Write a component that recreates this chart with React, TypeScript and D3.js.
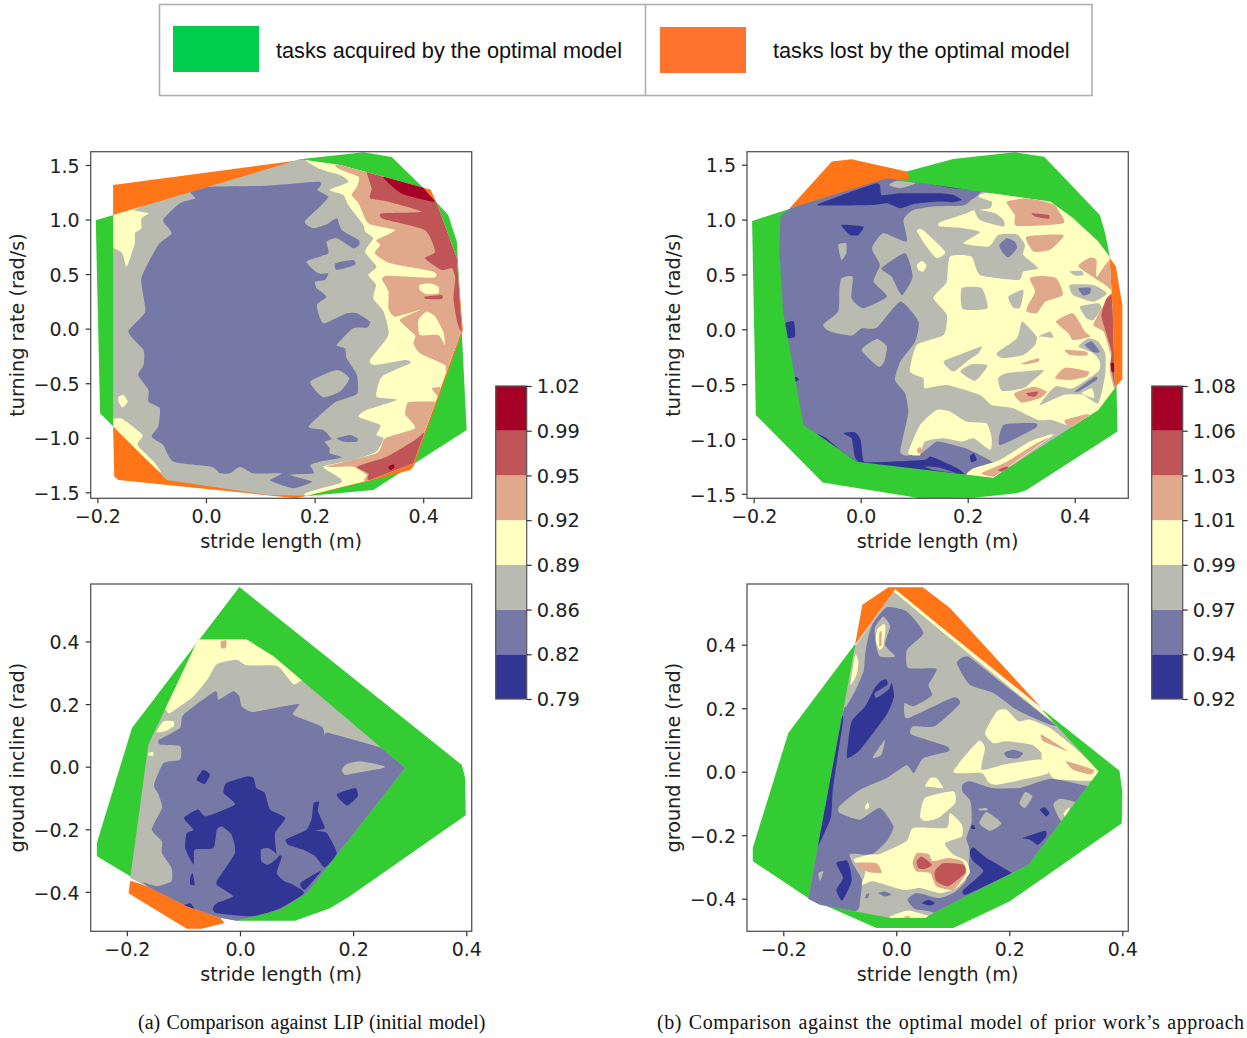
import React, { useEffect, useRef } from "react";
import * as d3 from "d3";

type Pt = [number, number];
type Layer = [number, Pt[]];

// colour bands, low to high
const bandColors = ["#313695", "#7679a6", "#b9bbb0", "#ffffbf", "#e0a98c", "#c05558", "#a50026"];
const leftBarLabels = ["0.79", "0.82", "0.86", "0.89", "0.92", "0.95", "0.99", "1.02"];
const rightBarLabels = ["0.92", "0.94", "0.97", "0.99", "1.01", "1.03", "1.06", "1.08"];
const turnTicks = [-1.5, -1, -0.5, 0, 0.5, 1, 1.5];
const strideTicksTop = [-0.2, 0, 0.2, 0.4];
const strideTicksBottom = [-0.2, 0, 0.2, 0.4];
const inclineTicks = [-0.4, -0.2, 0, 0.2, 0.4];
const legendItems = ["tasks acquired by the optimal model", "tasks lost by the optimal model"];

// ---- top left: stride length vs turning rate, LIP
const tlAcquired: Pt[] = [[-.203,.993],[.173,1.552],[.29,1.616],[.342,1.573],[.4,1.292],[.446,1.042],[.462,.797],[.471,-.027],[.48,-.929],[.308,-1.479],[.192,-1.531],[-.171,-.898],[-.195,-.776]];
const tlLost: Pt[][] = [[[-.171,1.317],[.161,1.537],[.413,1.277],[.424,1.164],[.465,.461],[.473,-.012],[.459,-.211],[.382,-1.265],[.376,-1.295],[.308,-1.387],[.167,-1.555],[-.161,-1.387],[-.169,-1.356],[-.171,-.898]]];
const tlHull: Pt[] = [[-.171,1.042],[.173,1.552],[.247,1.5],[.327,1.393],[.4,1.292],[.425,1.149],[.462,.645],[.471,-.012],[.443,-.394],[.382,-1.234],[.302,-1.387],[.185,-1.531],[.112,-1.524],[-.072,-1.387],[-.171,-.898]];
const tlLayers: Layer[] = [
  [1,[[.006,1.301],[.112,1.311],[.207,1.347],[.21,1.301],[.205,1.271],[.225,1.21],[.213,1.133],[.182,.981],[.198,.92],[.225,.965],[.241,1.011],[.25,.904],[.281,.813],[.282,.767],[.271,.736],[.241,.828],[.222,.797],[.225,.69],[.185,.614],[.207,.507],[.225,.507],[.219,.446],[.201,.431],[.204,.37],[.222,.293],[.204,.217],[.216,.049],[.259,.141],[.278,.141],[.302,.064],[.296,.009],[.271,.003],[.241,-.15],[.256,-.18],[.259,-.272],[.278,-.425],[.279,-.593],[.259,-.638],[.235,-.684],[.189,-.898],[.216,-.929],[.231,-1.011],[.219,-1.036],[.228,-1.097],[.228,-1.143],[.25,-1.182],[.21,-1.219],[.192,-1.25],[.198,-1.326],[.155,-1.341],[.195,-1.402],[.161,-1.463],[.13,-1.418],[.118,-1.387],[.139,-1.326],[.087,-1.326],[.063,-1.265],[.044,-1.326],[.026,-1.326],[.01,-1.265],[-.06,-1.219],[-.079,-1.066],[-.1,-.99],[-.088,-.898],[-.085,-.73],[-.106,-.669],[-.106,-.562],[-.125,-.425],[-.115,-.333],[-.115,-.196],[-.143,-.027],[-.112,.156],[-.119,.461],[-.088,.767],[-.063,.874],[-.079,.996],[-.048,1.149],[-.02,1.195],[-.029,1.256]]],
  [2,[[.192,-.486],[.241,-.379],[.264,-.455],[.247,-.577],[.216,-.629]]],
  [1,[[.238,.599],[.271,.629],[.274,.584],[.241,.538]]],
  [1,[[.241,-1.005],[.265,-.975],[.279,-1.005],[.278,-1.036],[.253,-1.036]]],
  [3,[[.185,1.537],[.21,1.463],[.25,1.402],[.262,1.341],[.228,1.271],[.253,1.225],[.262,1.133],[.29,.95],[.293,.889],[.308,.828],[.293,.706],[.314,.568],[.299,.492],[.313,.4],[.308,.278],[.327,.156],[.336,-.058],[.302,-.287],[.311,-.333],[.367,-.287],[.376,-.318],[.324,-.44],[.314,-.623],[.351,-.654],[.296,-.745],[.281,-.807],[.321,-.883],[.314,-.975],[.327,-1.005],[.314,-1.127],[.271,-1.204],[.216,-1.265],[.247,-1.372],[.247,-1.418],[.185,-1.531],[.5,-1.6],[.55,0],[.5,1.6],[.185,1.6]]],
  [4,[[.244,1.506],[.281,1.393],[.278,1.301],[.268,1.225],[.281,1.149],[.299,.965],[.348,.904],[.314,.813],[.321,.767],[.311,.69],[.339,.599],[.419,.522],[.419,.467],[.336,.486],[.324,.455],[.336,.339],[.336,.186],[.348,.11],[.394,.171],[.357,.079],[.385,-.058],[.382,-.134],[.394,-.226],[.44,-.333],[.446,-.394],[.55,-.394],[.55,1.6]]],
  [3,[[.391,.079],[.406,.156],[.422,.11],[.437,-.027],[.44,-.15],[.428,-.058],[.394,-.058]]],
  [3,[[.393,.4],[.413,.415],[.428,.385],[.428,.324],[.406,.315],[.394,.354]]],
  [5,[[.403,.293],[.434,.309],[.434,.272],[.406,.272]]],
  [4,[[.367,-.761],[.373,-.675],[.422,-.669],[.428,-.672],[.428,-1.372],[.296,-1.402],[.296,-1.341],[.271,-1.265],[.222,-1.265],[.314,-1.143],[.33,-1.005],[.385,-.913],[.367,-.791]]],
  [4,[[.416,-.547],[.434,-.541],[.428,-.623]]],
  [5,[[.278,-1.265],[.333,-1.173],[.385,-1.02],[.406,-.959],[.406,-1.402],[.302,-1.402],[.299,-1.326]]],
  [6,[[.336,-1.265],[.345,-1.243],[.347,-1.274],[.339,-1.295]]],
  [5,[[.296,1.439],[.305,1.286],[.302,1.195],[.336,1.164],[.397,1.072],[.324,1.057],[.327,1.005],[.403,.904],[.422,.706],[.403,.645],[.434,.538],[.453,.553],[.459,.461],[.456,.263],[.471,-.027],[.55,0],[.55,1.6],[.3,1.6]]],
  [6,[[.327,1.393],[.351,1.271],[.367,1.225],[.422,1.164],[.443,1.286],[.4,1.301]]],
  [3,[[-.2,1.05],[-.119,1.118],[-.134,1.088],[-.106,1.057],[-.119,1.011],[-.119,.92],[-.131,.874],[-.131,.782],[-.146,.568],[-.154,.69],[-.171,.736],[-.2,.74]]],
  [3,[[-.161,-.623],[-.152,-.608],[-.144,-.669],[-.154,-.721],[-.161,-.669]]],
  [3,[[-.18,-.88],[-.157,-.822],[-.117,-.975],[-.126,-1.066],[-.096,-1.219],[-.085,-1.311]]],
];

// ---- top right: stride length vs turning rate, prior work
const trAcquired: Pt[] = [[-.203,.988],[.086,1.438],[.173,1.553],[.288,1.614],[.343,1.572],[.447,1.043],[.457,.876],[.465,.678],[.478,-.508],[.48,-.933],[.31,-1.465],[.292,-1.496],[.211,-1.535],[.111,-1.541],[-.071,-1.398],[-.196,-.781]];
const trLost: Pt[][] = [
  [[-.133,1.104],[-.054,1.529],[-.017,1.55],[.086,1.438],[.092,1.377]],
  [[.465,.654],[.477,.572],[.489,.222],[.489,-.456],[.471,-.553],[.46,.161]],
];
const trHull: Pt[] = [[-.15,1.028],[-.132,1.104],[.049,1.377],[.354,1.164],[.397,1.012],[.444,.8],[.465,.663],[.471,.161],[.475,-.538],[.444,-.736],[.248,-1.353],[-.007,-1.207],[-.107,-.872],[-.145,.161],[-.152,.708]];
const trLayers: Layer[] = [
  [2,[[.08,.997],[.098,1.088],[.136,1.119],[.192,1.128],[.207,1.18],[.223,1.24],[.3,1.7],[.6,1.7],[.6,-1.7],[.198,-1.7],[.198,-1.328],[.211,-1.283],[.254,-1.237],[.204,-1.1],[.161,-1.04],[.142,-1.024],[.117,-1.116],[.086,-1.152],[.074,-1.116],[.083,-.903],[.089,-.751],[.083,-.584],[.064,-.462],[.074,-.295],[.102,-.112],[.108,.07],[.074,.252],[.03,.015],[.002,.009],[-.017,-.058],[-.057,-.021],[-.07,.04],[-.042,.161],[-.04,.344],[-.036,.465],[-.015,.48],[-.017,.283],[.005,.192],[.049,.298],[.024,.435],[.036,.587],[.021,.739],[.042,.876],[.086,.8]]],
  [1,[[.039,.556],[.083,.693],[.097,.48],[.077,.313],[.058,.48]]],
  [2,[[.002,-.188],[.03,-.088],[.049,-.158],[.044,-.295],[.033,-.34]]],
  [2,[[-.042,.769],[-.027,.784],[-.027,.693],[-.036,.632]]],
  [2,[[.053,1.316],[.067,1.353],[.102,1.332],[.074,1.286]]],
  [0,[[-.036,.952],[.005,.936],[-.004,.86],[-.02,.86]]],
  [0,[[-.141,.055],[-.125,.07],[-.123,-.067],[-.141,-.073]]],
  [0,[[-.126,-.447],[-.12,-.432],[-.115,-.456],[-.121,-.477]]],
  [0,[[-.076,1.149],[.03,1.332],[.039,1.225],[.074,1.24],[.148,1.24],[.173,1.225],[.189,1.18],[.173,1.158],[.142,1.164],[.098,1.14],[.074,1.104],[.049,1.149],[.024,1.134],[-.073,1.128]]],
  [0,[[.086,1.368],[.223,1.271],[.173,1.286],[.111,1.341]]],
  [0,[[-.004,-1.207],[-.014,-1.07],[-.017,-.994],[-.032,-.948],[-.011,-.939],[0,-1.009],[.004,-1.176],[.014,-1.213],[.117,-1.192],[.13,-1.161],[.155,-1.207],[.186,-1.283],[.191,-1.344],[.086,-1.298]]],
  [1,[[.12,-1.252],[.148,-1.262],[.179,-1.313],[.136,-1.283]]],
  [0,[[-.079,-.964],[-.007,-1.207],[-.017,-1.192],[-.064,-.994]]],
  [0,[[.204,-1.161],[.211,-1.131],[.217,-1.192],[.207,-1.213]]],
  [1,[[.267,-.872],[.326,-.857],[.326,-.903],[.26,-1.055]]],
  [3,[[.232,1.24],[.6,1.5],[.6,-.8],[.429,-.812],[.397,-.888],[.357,-.827],[.332,-.827],[.285,-.72],[.245,-.69],[.223,-.599],[.161,-.508],[.12,-.538],[.117,-.447],[.092,-.386],[.105,-.143],[.155,-.052],[.161,.131],[.136,.283],[.151,.374],[.161,.435],[.167,.663],[.207,.663],[.223,.496],[.295,.45],[.304,.526],[.332,.556],[.304,.678],[.307,.769],[.292,.866],[.257,.86],[.239,.754],[.192,.784],[.223,.885],[.192,.921],[.148,.936],[.148,.976],[.198,1.058],[.207,1.079],[.242,1.104],[.245,1.164]]],
  [2,[[.214,1.088],[.251,1.058],[.267,.997],[.267,.936],[.223,.997]]],
  [2,[[.189,.374],[.226,.374],[.237,.192],[.191,.185]]],
  [2,[[.276,.298],[.304,.359],[.298,.198],[.285,.198]]],
  [2,[[.254,-.219],[.292,-.082],[.301,.07],[.313,.024],[.329,-.067],[.326,-.143],[.304,-.234],[.267,-.264]]],
  [2,[[.332,-.067],[.354,-.021],[.36,-.076],[.341,-.067]]],
  [2,[[.155,-.295],[.192,-.219],[.226,-.158],[.22,-.219],[.198,-.295],[.173,-.386]]],
  [2,[[.186,-.386],[.207,-.319],[.237,-.331],[.214,-.471]]],
  [2,[[.257,-.447],[.273,-.401],[.341,-.371],[.323,-.462],[.304,-.538],[.264,-.562]]],
  [2,[[.391,.526],[.413,.532],[.416,.496],[.401,.489]]],
  [2,[[.391,.404],[.435,.404],[.46,.328],[.435,.252],[.397,.313]]],
  [2,[[.41,.207],[.444,.237],[.45,.192],[.435,.085],[.422,.1]]],
  [2,[[.407,-.158],[.426,-.082],[.444,-.112],[.457,-.219],[.457,-.416],[.444,-.675],[.416,-.599],[.379,-.599],[.335,-.69],[.363,-.523],[.397,-.538],[.444,-.386],[.447,-.295],[.435,-.219]]],
  [1,[[.259,.769],[.273,.83],[.288,.8],[.292,.739],[.276,.654],[.264,.708]]],
  [1,[[.407,.374],[.429,.38],[.429,.328],[.416,.307]]],
  [1,[[.419,-.143],[.432,-.112],[.447,-.204],[.435,-.21]]],
  [1,[[.401,-.562],[.438,-.432],[.441,-.462],[.407,-.568]]],
  [3,[[.413,-.584],[.432,-.538],[.436,-.629]]],
  [4,[[.31,.845],[.379,.86],[.354,.724],[.323,.708]]],
  [4,[[.316,.465],[.338,.486],[.366,.465],[.378,.313],[.345,.252],[.329,.146],[.31,.161],[.313,.222],[.326,.344]]],
  [4,[[.273,1.164],[.316,1.195],[.36,1.14],[.369,1.088],[.379,.967],[.292,.942],[.288,1.043]]],
  [5,[[.32,1.058],[.351,1.043],[.351,1.006],[.326,1.028]]],
  [4,[[.365,.07],[.397,.146],[.419,-.021],[.429,-.067],[.397,-.097],[.388,-.036]]],
  [4,[[.382,-.188],[.422,-.204],[.422,-.24],[.391,-.234]]],
  [4,[[.301,-.31],[.332,-.264],[.332,-.295],[.307,-.319]]],
  [4,[[.363,-.447],[.382,-.35],[.426,-.386],[.422,-.432],[.391,-.462]]],
  [4,[[.287,-.584],[.323,-.523],[.348,-.568],[.335,-.629],[.301,-.669]]],
  [5,[[.31,-.584],[.332,-.568],[.326,-.614],[.313,-.605]]],
  [4,[[.407,.572],[.429,.654],[.441,.632],[.441,.48],[.466,.632],[.475,.344],[.457,.404]]],
  [4,[[.435,.04],[.454,.222],[.463,.298],[.478,.283],[.478,-.568],[.466,-.386],[.469,-.264],[.454,-.021]]],
  [5,[[.45,.131],[.46,.283],[.478,.298],[.478,-.538],[.467,-.325],[.469,-.204],[.457,-.006]]],
  [6,[[.467,-.31],[.475,-.31],[.475,-.386],[.469,-.386]]],
  [4,[[.382,-.827],[.422,-.775],[.429,-.796],[.397,-.888],[.385,-.872]]],
  [3,[[.211,-1.268],[.26,-1.192],[.316,-1.024],[.36,-.964],[.26,-1.313],[.248,-1.359],[.198,-1.335]]],
  [4,[[.226,-1.313],[.273,-1.207],[.323,-1.055],[.351,-.994],[.267,-1.283],[.248,-1.344]]],
  [5,[[.257,-1.283],[.273,-1.252],[.276,-1.268],[.264,-1.298]]],
  [3,[[.089,-1.116],[.111,-.872],[.142,-.736],[.167,-.751],[.198,-.842],[.235,-.857],[.245,-.994],[.242,-1.1],[.211,-.994],[.189,-1.024],[.155,-.994],[.12,-1.024],[.111,-1.146],[.095,-1.146]]],
  [4,[[.105,-1.1],[.111,-1.07],[.117,-1.122],[.108,-1.131]]],
  [3,[[.105,.897],[.116,.906],[.158,.708],[.142,.648],[.123,.754]]],
  [3,[[.105,.587],[.114,.623],[.123,.587],[.117,.526],[.108,.541]]],
];

// ---- bottom left: stride length vs ground incline, LIP
const blAcquired: Pt[] = [[-.001,.574],[.392,.006],[.398,-.036],[.399,-.155],[.194,-.414],[.159,-.452],[.097,-.492],[-.006,-.492],[-.194,-.35],[-.253,-.286],[-.253,-.244],[-.191,.124]];
const blLost: Pt[][] = [[[-.194,-.364],[-.197,-.404],[-.094,-.518],[-.068,-.518],[-.027,-.499],[-.035,-.483],[-.171,-.377]]];
const blHull: Pt[] = [[-.074,.406],[.012,.406],[.059,.353],[.292,-.004],[.118,-.404],[.071,-.457],[-.006,-.492],[-.035,-.483],[-.094,-.446],[-.194,-.356],[-.162,.07]];
const blLayers: Layer[] = [
  [1,[[-.1,.166],[-.044,.241],[-.038,.214],[-.012,.241],[-.001,.225],[.003,.193],[.024,.175],[.103,.2],[.094,.166],[.144,.129],[.15,.097],[.156,.108],[.25,.06],[.31,0],[.12,-.42],[-.006,-.52],[-.094,-.47],[-.171,-.372],[-.147,-.382],[-.121,-.366],[-.121,-.324],[-.138,-.276],[-.138,-.239],[-.156,-.201],[-.138,-.132],[-.144,-.089],[-.152,-.058],[-.135,.012],[-.106,.022],[-.106,.065],[-.141,.07],[-.143,.086],[-.106,.124]]],
  [3,[[-.08,.45],[.02,.45],[.12,.3],[.106,.273],[.094,.264],[.071,.315],[.059,.324],[.012,.324],[-.006,.342],[-.041,.328],[-.056,.283],[-.082,.225],[-.124,.171],[-.131,.182],[-.15,.2]]],
  [3,[[-.148,.111],[-.135,.145],[-.118,.145],[-.117,.129],[-.133,.113]]],
  [3,[[-.162,.044],[-.154,.047],[-.153,.036],[-.162,.036]]],
  [4,[[-.034,.4],[-.024,.403],[-.025,.379],[-.033,.379]]],
  [2,[[.18,-.01],[.189,.009],[.215,.017],[.253,.003],[.253,-.004],[.206,-.02],[.186,-.026]]],
  [0,[[-.077,-.042],[-.065,-.01],[-.053,-.026],[-.062,-.055]]],
  [0,[[.171,-.089],[.204,-.068],[.208,-.095],[.189,-.124]]],
  [0,[[-.029,-.084],[-.024,-.052],[.012,-.031],[.024,-.036],[.029,-.068],[.044,-.084],[.053,-.137],[.08,-.164],[.062,-.212],[.065,-.281],[.074,-.286],[.065,-.34],[.077,-.364],[.094,-.377],[.113,-.404],[.071,-.452],[.024,-.478],[-.041,-.468],[-.048,-.452],[-.041,-.436],[-.012,-.414],[-.038,-.382],[-.041,-.366],[-.009,-.276],[-.015,-.217],[-.032,-.191],[-.041,-.201],[-.047,-.26],[-.08,-.265],[-.082,-.313],[-.097,-.26],[-.094,-.212],[-.082,-.201],[-.099,-.164],[-.074,-.137],[-.06,-.159],[-.009,-.121]]],
  [1,[[.037,-.265],[.05,-.26],[.068,-.286],[.05,-.313],[.038,-.302]]],
  [0,[[.13,-.116],[.14,-.113],[.138,-.143],[.15,-.196],[.133,-.204],[.153,-.212],[.171,-.276],[.15,-.322],[.133,-.286],[.112,-.265],[.085,-.249],[.081,-.233],[.1,-.217],[.118,-.201],[.127,-.164]]],
  [0,[[.107,-.372],[.144,-.332],[.115,-.393]]],
  [0,[[-.088,-.356],[-.084,-.34],[-.08,-.377],[-.088,-.377]]],
  [0,[[-.103,-.446],[-.088,-.436],[-.08,-.457]]],
];

// ---- bottom right: stride length vs ground incline, prior work
const brAcquired: Pt[] = [[-.074,.4],[-.191,.122],[-.254,-.24],[-.254,-.282],[-.156,-.398],[-.035,-.492],[.101,-.492],[.201,-.408],[.399,-.162],[.4,-.062],[.395,.003],[.263,.19]];
const brLost: Pt[][] = [[[-.073,.4],[-.06,.526],[-.014,.581],[.047,.581],[.095,.516],[.257,.201],[-.002,.573]]];
const brHull: Pt[] = [[-.002,.575],[.263,.185],[.358,.001],[.234,-.293],[.071,-.44],[.051,-.461],[-.011,-.461],[-.135,-.419],[-.156,-.4],[-.073,.395]];
const brLayers: Layer[] = [
  [3,[[.002,.572],[.262,.188],[.256,.186],[-.002,.564]]],
  [1,[[-.017,.518],[.018,.505],[.048,.437],[.019,.384],[.021,.327],[.071,.324],[.057,.274],[.063,.24],[.031,.206],[.015,.216],[.014,.19],[.021,.169],[.101,.234],[.112,.213],[.068,.143],[.03,.143],[.027,.117],[.089,.08],[.092,.064],[.048,.043],[.031,-.004],[.018,.02],[-.017,-.02],[-.064,-.057],[-.101,-.109],[-.1,-.13],[-.064,-.151],[-.029,-.114],[-.005,-.172],[-.017,-.219],[-.044,-.261],[-.082,-.259],[-.076,-.293],[-.061,-.34],[-.064,-.403],[-.073,-.44],[-.17,-.45],[-.17,-.38],[-.097,.169],[-.088,.206],[-.073,.253],[-.058,.316],[-.055,.369],[-.05,.421],[-.041,.468]]],
  [2,[[-.038,.453],[-.023,.489],[-.011,.458],[-.02,.4],[-.002,.363],[-.029,.363],[-.036,.4]]],
  [3,[[-.034,.447],[-.022,.465],[-.019,.453],[-.023,.395],[-.03,.384],[-.036,.411]]],
  [4,[[-.03,.437],[-.026,.442],[-.026,.4],[-.03,.395]]],
  [3,[[-.081,.274],[-.073,.369],[-.067,.348],[-.07,.306]]],
  [2,[[-.041,.048],[-.02,.101],[-.026,.054],[-.038,.043]]],
  [2,[[-.138,-.319],[-.129,-.314],[-.135,-.345]]],
  [0,[[-.079,.159],[-.055,.206],[-.038,.264],[-.026,.287],[-.017,.29],[-.016,.274],[-.038,.248],[-.035,.232],[-.014,.258],[-.008,.279],[-.004,.237],[-.017,.18],[-.064,.069],[-.087,.043],[-.085,.096]]],
  [0,[[-.1,.159],[-.094,.164],[-.112,-.051],[-.116,-.146],[-.14,-.238],[-.132,-.156],[-.12,-.041]]],
  [0,[[-.106,-.288],[-.088,-.28],[-.082,-.303],[-.079,-.345],[-.091,-.393],[-.097,-.406],[-.106,-.372],[-.094,-.335]]],
  [1,[[.117,-.041],[.13,-.03],[.169,-.051],[.219,-.051],[.275,-.022],[.35,-.046],[.42,0],[.3,-.4],[.1,-.5],[.068,-.445],[.033,-.432],[.02,-.403],[.036,-.382],[.074,-.398],[.101,-.382],[.124,-.34],[.13,-.251],[.124,-.209],[.133,-.162],[.133,-.114],[.13,-.088],[.117,-.062]]],
  [3,[[-.076,-.277],[-.047,-.261],[-.029,-.259],[.018,-.219],[.03,-.177],[.089,-.177],[.095,-.13],[.116,-.167],[.116,-.204],[.086,-.225],[.101,-.261],[.124,-.282],[.13,-.319],[.107,-.366],[.077,-.382],[.042,-.366],[.012,-.372],[-.041,-.345],[-.061,-.356],[-.055,-.314]]],
  [3,[[.042,-.141],[.051,-.083],[.101,-.062],[.104,-.099],[.074,-.146],[.051,-.156]]],
  [3,[[.051,-.046],[.06,-.02],[.071,-.02],[.083,-.051],[.065,-.049]]],
  [3,[[-.055,-.109],[-.05,-.096],[-.048,-.112],[-.054,-.12]]],
  [3,[[-.011,-.456],[.021,-.437],[.06,-.456],[.048,-.466],[-.005,-.466]]],
  [4,[[.012,-.459],[.021,-.454],[.025,-.461]]],
  [3,[[.157,.122],[.178,.19],[.195,.195],[.216,.159],[.237,.164],[.272,.138],[.313,.08],[.358,.003],[.349,-.028],[.281,-.023],[.266,.012],[.257,.043],[.257,.059],[.24,.085],[.195,.096],[.172,.09]]],
  [3,[[.101,-.001],[.145,.096],[.157,.075],[.151,.006],[.195,.024],[.257,.038],[.269,-.004],[.237,-.02],[.178,-.041],[.163,-.033],[.151,-.004]]],
  [1,[[.191,.059],[.207,.069],[.224,.059],[.216,.043],[.198,.043]]],
  [4,[[.257,.117],[.304,.064],[.281,.08],[.26,.096]]],
  [4,[[.301,.033],[.349,.006],[.343,-.009],[.313,.006]]],
  [2,[[.218,-.099],[.228,-.064],[.241,-.078],[.228,-.114]]],
  [2,[[.147,-.162],[.16,-.127],[.186,-.162],[.166,-.186]]],
  [2,[[.145,-.117],[.16,-.114],[.161,-.122],[.148,-.122]]],
  [2,[[.278,-.104],[.29,-.085],[.319,-.099],[.293,-.156]]],
  [3,[[.296,-.13],[.307,-.112],[.304,-.13],[.299,-.141]]],
  [0,[[.254,-.12],[.263,-.112],[.271,-.13],[.265,-.141]]],
  [0,[[.224,-.209],[.263,-.186],[.265,-.204],[.251,-.23],[.237,-.214]]],
  [0,[[.132,-.172],[.136,-.167],[.14,-.18],[.133,-.18]]],
  [0,[[.13,-.256],[.136,-.238],[.16,-.272],[.2,-.314],[.201,-.322],[.124,-.387],[.119,-.372],[.154,-.314],[.136,-.282]]],
  [4,[[-.073,-.288],[-.035,-.288],[-.026,-.319],[-.053,-.314]]],
  [4,[[.029,-.288],[.036,-.256],[.057,-.259],[.065,-.282],[.092,-.272],[.117,-.282],[.124,-.319],[.101,-.372],[.071,-.361],[.06,-.319],[.036,-.314]]],
  [5,[[.036,-.282],[.045,-.267],[.063,-.293],[.051,-.306],[.039,-.303]]],
  [5,[[.068,-.314],[.083,-.288],[.119,-.293],[.122,-.319],[.092,-.361],[.071,-.345]]],
  [1,[[-.032,-.382],[-.02,-.377],[-.008,-.387],[-.02,-.393]]],
  [1,[[-.053,-.387],[-.048,-.382],[-.05,-.398],[-.055,-.398]]],
  [0,[[.045,-.414],[.057,-.403],[.068,-.414],[.06,-.421]]],
  [1,[[.107,.342],[.127,.363],[.183,.285],[.281,.148],[.257,.159],[.213,.195],[.172,.248],[.13,.274]]],
];

const ACQUIRED = "#33cc33";
const LOST = "#ff7518";
const FRAME = "#555";
const INK = "#222";
const TICK_FONT = 19;

const drawPanel = (svg, id, box, xDomain, yDomain, xTicks, yTicks, yLabel, acquired, lost, hull, base, layers) => {
  const x = d3.scaleLinear().domain(xDomain).range([box.left, box.right]);
  const y = d3.scaleLinear().domain(yDomain).range([box.bottom, box.top]);
  const hullLine = d3.line().x(d => x(d[0])).y(d => y(d[1])).curve(d3.curveLinearClosed);
  const blobLine = d3.line().x(d => x(d[0])).y(d => y(d[1])).curve(d3.curveCardinalClosed.tension(0.45));

  svg.append("clipPath").attr("id", id).append("path").attr("d", hullLine(hull));

  svg.append("path").attr("d", hullLine(acquired)).attr("fill", ACQUIRED);
  lost.forEach(p => svg.append("path").attr("d", hullLine(p)).attr("fill", LOST));
  svg.append("path").attr("d", hullLine(hull)).attr("fill", bandColors[base]);

  const g = svg.append("g").attr("clip-path", `url(#${id})`);
  layers.forEach(([band, pts]) => {
    g.append("path").attr("d", blobLine(pts)).attr("fill", bandColors[band]);
  });

  svg.append("rect")
    .attr("x", box.left).attr("y", box.top)
    .attr("width", box.right - box.left).attr("height", box.bottom - box.top)
    .attr("fill", "none").attr("stroke", FRAME).attr("stroke-width", 1.3);

  const xAxis = d3.axisBottom(x).tickValues(xTicks).tickFormat(d3.format(".1f")).tickSize(5).tickPadding(6);
  const yAxis = d3.axisLeft(y).tickValues(yTicks).tickFormat(d3.format(".1f")).tickSize(5).tickPadding(6);
  const xg = svg.append("g").attr("transform", `translate(0,${box.bottom})`).call(xAxis);
  const yg = svg.append("g").attr("transform", `translate(${box.left},0)`).call(yAxis);
  yg.selectAll("text").attr("dy", "0.38em");
  [xg, yg].forEach(a => {
    a.select(".domain").remove();
    a.selectAll("line").attr("stroke", "#333").attr("stroke-width", 1.2);
    a.selectAll("text").attr("font-family", "DejaVu Sans").attr("font-size", TICK_FONT).attr("fill", INK);
  });

  svg.append("text")
    .attr("x", (box.left + box.right) / 2).attr("y", box.bottom + 50)
    .attr("text-anchor", "middle").attr("font-family", "DejaVu Sans").attr("font-size", 19.2).attr("fill", INK)
    .text("stride length (m)");
  svg.append("text")
    .attr("transform", `translate(${box.left - 67},${(box.top + box.bottom) / 2}) rotate(-90)`)
    .attr("text-anchor", "middle").attr("font-family", "DejaVu Sans").attr("font-size", 19.2).attr("fill", INK)
    .text(yLabel);
};

const drawColorbar = (svg, left, labels) => {
  const width = 31;
  const y = d3.scaleLinear().domain([0, labels.length - 1]).range([699, 386]);
  bandColors.forEach((c, i) => {
    svg.append("rect")
      .attr("x", left).attr("y", y(i + 1))
      .attr("width", width).attr("height", y(i) - y(i + 1))
      .attr("fill", c);
  });
  svg.append("rect")
    .attr("x", left).attr("y", y(labels.length - 1))
    .attr("width", width).attr("height", y(0) - y(labels.length - 1))
    .attr("fill", "none").attr("stroke", FRAME).attr("stroke-width", 1.2);
  const axis = d3.axisRight(y).tickValues(d3.range(labels.length)).tickFormat(i => labels[i]).tickSize(5).tickPadding(5);
  const a = svg.append("g").attr("transform", `translate(${left + width},0)`).call(axis);
  a.select(".domain").remove();
  a.selectAll("line").attr("stroke", "#333").attr("stroke-width", 1.2);
  a.selectAll("text").attr("font-family", "DejaVu Sans").attr("font-size", 19.4).attr("fill", INK).attr("dy", "0.34em");
};

const App = () => {
  const ref = useRef(null);

  useEffect(() => {
    const svg = d3.select(ref.current);
    svg.selectAll("*").remove();

    // legend
    svg.append("rect").attr("x", 159.5).attr("y", 4.5).attr("width", 932.5).attr("height", 91)
      .attr("fill", "none").attr("stroke", "#b0b0b0").attr("stroke-width", 1.6);
    svg.append("line").attr("x1", 645.5).attr("x2", 645.5).attr("y1", 4.5).attr("y2", 95.5)
      .attr("stroke", "#b0b0b0").attr("stroke-width", 1.6);
    svg.append("rect").attr("x", 173).attr("y", 26).attr("width", 86).attr("height", 46).attr("fill", "#00cc4d");
    svg.append("rect").attr("x", 660).attr("y", 27).attr("width", 86).attr("height", 46).attr("fill", "#ff732e");
    [[276, legendItems[0]], [773, legendItems[1]]].forEach(([tx, label]) => {
      svg.append("text").attr("x", tx).attr("y", 58)
        .attr("font-family", "Liberation Sans").attr("font-size", 21.7).attr("fill", "#111").text(label);
    });

    const topLeftBox = { left: 90.7, right: 471.7, top: 151.7, bottom: 498.3 };
    const topRightBox = { left: 747, right: 1128.3, top: 151.7, bottom: 498.3 };
    const bottomLeftBox = { left: 90.7, right: 471.7, top: 584, bottom: 931.3 };
    const bottomRightBox = { left: 747, right: 1128.3, top: 584, bottom: 931.3 };

    drawPanel(svg, "clip-tl", topLeftBox, [-.2123, .4893], [-1.555, 1.622], strideTicksTop, turnTicks, "turning rate (rad/s)", tlAcquired, tlLost, tlHull, 2, tlLayers);
    drawPanel(svg, "clip-tr", topRightBox, [-.2125, .5002], [-1.541, 1.619], strideTicksTop, turnTicks, "turning rate (rad/s)", trAcquired, trLost, trHull, 1, trLayers);
    drawPanel(svg, "clip-bl", bottomLeftBox, [-.2639, .4096], [-.5259, .5837], strideTicksBottom, inclineTicks, "ground incline (rad)", blAcquired, blLost, blHull, 2, blLayers);
    drawPanel(svg, "clip-br", bottomRightBox, [-.2642, .4106], [-.5027, .5912], strideTicksBottom, inclineTicks, "ground incline (rad)", brAcquired, brLost, brHull, 2, brLayers);

    drawColorbar(svg, 495.7, leftBarLabels);
    drawColorbar(svg, 1151.7, rightBarLabels);

    svg.append("text").attr("x", 138).attr("y", 1029).attr("font-family", "Liberation Serif").attr("font-size", 20).attr("word-spacing", 1.3).attr("fill", "#111")
      .text("(a) Comparison against LIP (initial model)");
    svg.append("text").attr("x", 657).attr("y", 1029).attr("font-family", "Liberation Serif").attr("font-size", 20).attr("letter-spacing", 0.5).attr("word-spacing", 1.5).attr("fill", "#111")
      .text("(b) Comparison against the optimal model of prior work\u2019s approach");
  }, []);

  return <svg ref={ref} width={1247} height={1038} style={{ position: "absolute", left: 0, top: 0, background: "#fff" }} />;
};

export default App;
